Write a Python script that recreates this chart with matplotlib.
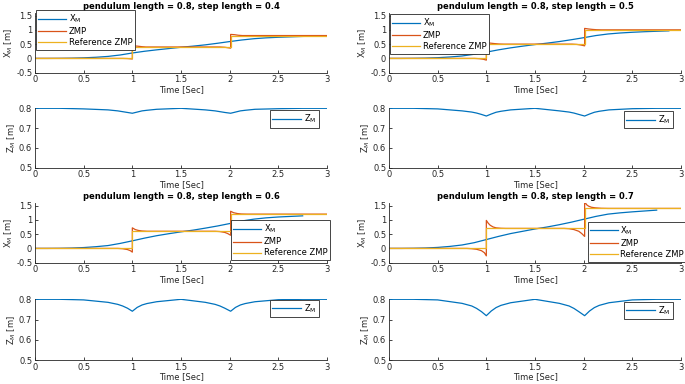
import matplotlib
matplotlib.use("Agg")
import matplotlib.pyplot as plt

plt.rcParams['font.family'] = ['DejaVu Sans']
plt.rcParams['mathtext.fontset'] = 'dejavusans'

# colours (MATLAB default order)
cBlue = '#0072BD'
cOrange = '#D95319'
cYellow = '#EDB120'
cAxis = '#262626'

stepLengths = [0.4, 0.5, 0.6, 0.7]

# ---- X_M (center of mass, horizontal) ----
tX = [0, 0.125, 0.25, 0.375, 0.5, 0.625, 0.75, 0.875, 1.0, 1.125, 1.25, 1.375, 1.5,
      1.625, 1.75, 1.875, 2.0, 2.125, 2.25, 2.375, 2.5, 2.625, 2.75, 2.875]
xm04 = [0, 0, 0.002, 0.008, 0.02, 0.04, 0.07, 0.12, 0.19, 0.25, 0.30, 0.345, 0.39,
        0.43, 0.475, 0.53, 0.59, 0.645, 0.69, 0.72, 0.74, 0.755, 0.77, 0.78]
xm05 = [0, 0, 0.003, 0.01, 0.025, 0.05, 0.085, 0.145, 0.22, 0.30, 0.37, 0.43, 0.485,
        0.535, 0.59, 0.655, 0.725, 0.80, 0.855, 0.89, 0.915, 0.935, 0.95, 0.965]
xm06 = [0, 0, 0.003, 0.012, 0.03, 0.06, 0.10, 0.175, 0.265, 0.36, 0.445, 0.515, 0.58,
        0.64, 0.71, 0.785, 0.87, 0.96, 1.025, 1.07, 1.10, 1.12, 1.14]
xm07 = [0, 0, 0.004, 0.014, 0.035, 0.07, 0.12, 0.20, 0.31, 0.42, 0.52, 0.60, 0.68,
        0.75, 0.83, 0.92, 1.02, 1.12, 1.20, 1.245, 1.28, 1.31, 1.34]

# ---- ZMP (actual) ----
tZmp04 = [0, 0.9, 0.95, 1.0, 1.0, 1.05, 1.1, 1.14, 1.9, 1.95, 2.01, 2.01, 2.05, 2.09, 2.13, 3.0]
zmp04 = [0, 0, -0.005, -0.02, 0.44, 0.43, 0.41, 0.40, 0.40, 0.39, 0.36, 0.84, 0.83, 0.81, 0.80, 0.80]
tZmp05 = [0, 0.88, 0.93, 0.97, 1.0, 1.0, 1.04, 1.08, 1.13, 1.18, 1.88, 1.93, 1.97, 2.01, 2.01,
          2.05, 2.09, 2.13, 2.18, 3.0]
zmp05 = [0, 0, -0.01, -0.03, -0.06, 0.56, 0.535, 0.52, 0.505, 0.50, 0.50, 0.49, 0.47, 0.44, 1.05,
         1.03, 1.015, 1.005, 1.0, 1.0]
tZmp06 = [0, 0.85, 0.9, 0.95, 0.98, 1.0, 1.0, 1.03, 1.06, 1.1, 1.15, 1.85, 1.9, 1.95, 1.98, 2.01,
          2.01, 2.04, 2.08, 2.12, 2.18, 3.0]
zmp06 = [0, 0, -0.01, -0.04, -0.08, -0.13, 0.72, 0.66, 0.63, 0.61, 0.60, 0.60, 0.59, 0.56, 0.52, 0.46,
         1.30, 1.25, 1.22, 1.205, 1.20, 1.20]
tZmp07 = [0, 0.8, 0.85, 0.9, 0.95, 0.98, 1.0, 1.0, 1.02, 1.04, 1.07, 1.1, 1.15, 1.2, 1.8, 1.85,
          1.9, 1.95, 1.98, 2.01, 2.01, 2.03, 2.05, 2.08, 2.12, 2.18, 2.25, 3.0]
zmp07 = [0, 0, -0.01, -0.03, -0.08, -0.15, -0.26, 0.98, 0.88, 0.81, 0.75, 0.72, 0.705, 0.70, 0.70,
         0.69, 0.66, 0.60, 0.52, 0.42, 1.64, 1.53, 1.48, 1.44, 1.42, 1.405, 1.40, 1.40]

# ---- reference ZMP ----
tRef = [0, 1.0, 1.0, 2.01, 2.01, 3.0]
ref04 = [0, 0, 0.4, 0.4, 0.8, 0.8]
ref05 = [0, 0, 0.5, 0.5, 1.0, 1.0]
ref06 = [0, 0, 0.6, 0.6, 1.2, 1.2]
ref07 = [0, 0, 0.7, 0.7, 1.4, 1.4]

# ---- Z_M (center of mass height) ----
tZ = [0, 0.25, 0.5, 0.75, 0.85, 0.9, 0.95, 1.0, 1.05, 1.1, 1.15, 1.25, 1.5,
      1.75, 1.85, 1.9, 1.95, 2.01, 2.06, 2.11, 2.16, 2.26, 2.5, 2.75, 3.0]
zm04 = [0.8, 0.8, 0.797, 0.792, 0.787, 0.783, 0.779, 0.775, 0.781, 0.787, 0.79, 0.795, 0.8,
        0.792, 0.787, 0.783, 0.779, 0.775, 0.781, 0.787, 0.79, 0.795, 0.798, 0.8, 0.8]
zm05 = [0.8, 0.8, 0.797, 0.787, 0.781, 0.776, 0.769, 0.761, 0.771, 0.78, 0.785, 0.792, 0.8,
        0.787, 0.781, 0.776, 0.769, 0.761, 0.771, 0.78, 0.785, 0.792, 0.798, 0.8, 0.8]
zm06 = [0.8, 0.8, 0.797, 0.785, 0.775, 0.767, 0.756, 0.741, 0.76, 0.772, 0.779, 0.788, 0.8,
        0.785, 0.775, 0.767, 0.756, 0.741, 0.76, 0.772, 0.779, 0.788, 0.798, 0.8, 0.8]
zm07 = [0.8, 0.8, 0.797, 0.78, 0.767, 0.755, 0.739, 0.719, 0.742, 0.759, 0.77, 0.783, 0.8,
        0.78, 0.767, 0.755, 0.739, 0.719, 0.742, 0.759, 0.77, 0.783, 0.797, 0.8, 0.8]

xmList = [xm04, xm05, xm06, xm07]
tZmpList = [tZmp04, tZmp05, tZmp06, tZmp07]
zmpList = [zmp04, zmp05, zmp06, zmp07]
refList = [ref04, ref05, ref06, ref07]
zmList = [zm04, zm05, zm06, zm07]

xTicks = [0, 0.5, 1, 1.5, 2, 2.5, 3]
xTickLabels = ['0', '0.5', '1', '1.5', '2', '2.5', '3']
xmTicks = [-0.5, 0, 0.5, 1, 1.5]
xmTickLabels = ['-0.5', '0', '0.5', '1', '1.5']
zmTicks = [0.5, 0.6, 0.7, 0.8]
zmTickLabels = ['0.5', '0.6', '0.7', '0.8']

W, H = 685.0, 384.0
fs = 6

def styleAxes(ax):
	for s in ['top', 'right']:
		ax.spines[s].set_visible(False)
	for s in ['left', 'bottom']:
		ax.spines[s].set_color(cAxis)
		ax.spines[s].set_linewidth(0.6)
	ax.tick_params(direction='in', length=2.5, width=0.6, colors=cAxis, labelsize=fs, pad=2)
	ax.set_xlim(0, 3)
	ax.set_xticks(xTicks)
	ax.set_xticklabels(xTickLabels)
	ax.set_xlabel('Time [Sec]', fontsize=fs, color=cAxis, labelpad=0.5)

def makeLegend(ax, loc, anchor, handlelength):
	leg = ax.legend(loc=loc, bbox_to_anchor=anchor, fontsize=fs, handlelength=handlelength,
		handletextpad=0.35, borderpad=0.3, labelspacing=0.25, borderaxespad=0,
		fancybox=False, framealpha=1, edgecolor=cAxis)
	leg.get_frame().set_linewidth(0.6)
	return leg

fig = plt.figure(figsize=(W / 100, H / 100), dpi=100)

lefts = [35 / W, 389 / W]
axW = 292 / W
# (top, bottom) in pixels for X rows and Z rows
xRows = [(12.7, 72.7), (202.7, 262.7)]
zRows = [(108.3, 167.7), (299.3, 360.0)]

xLegLoc = [('upper left', (0.003, 1.045)), ('upper left', (0.003, 0.978)),
	('lower right', (1.01, 0.045)), ('upper left', (0.68, 0.68))]
zLegAnchor = [(0.973, 0.971), (0.973, 0.955), (0.973, 0.99), (0.973, 0.96)]

for k in range(4):
	row = k // 2
	col = k % 2
	L = stepLengths[k]

	# X_M plot
	top, bot = xRows[row]
	ax = fig.add_axes([lefts[col], 1 - bot / H, axW, (bot - top) / H])
	n = len(xmList[k])
	ax.plot(tX[:n], xmList[k], color=cBlue, lw=0.9, label=r'X$_{\mathrm{M}}$')
	ax.plot(tZmpList[k], zmpList[k], color=cOrange, lw=0.9, label='ZMP')
	ax.plot(tRef, refList[k], color=cYellow, lw=0.9, label='Reference ZMP')
	styleAxes(ax)
	ax.set_ylim(-0.5, 1.6)
	ax.set_yticks(xmTicks)
	ax.set_yticklabels(xmTickLabels)
	ax.set_ylabel(r'X$_{\mathrm{M}}$ [m]', fontsize=fs, color=cAxis, labelpad=1)
	ax.set_title('pendulum length = 0.8, step length = ' + str(L), fontsize=fs,
		fontweight='bold', color='black', pad=3)
	loc, anc = xLegLoc[k]
	makeLegend(ax, loc, anc, 3.3)

	# Z_M plot
	top, bot = zRows[row]
	ax = fig.add_axes([lefts[col], 1 - bot / H, axW, (bot - top) / H])
	ax.plot(tZ, zmList[k], color=cBlue, lw=0.9, label=r'Z$_{\mathrm{M}}$')
	styleAxes(ax)
	ax.set_ylim(0.5, 0.8)
	ax.set_yticks(zmTicks)
	ax.set_yticklabels(zmTickLabels)
	ax.set_ylabel(r'Z$_{\mathrm{M}}$ [m]', fontsize=fs, color=cAxis, labelpad=1)
	makeLegend(ax, 'upper right', zLegAnchor[k], 3.5)

fig.savefig('out.png', dpi=100)
